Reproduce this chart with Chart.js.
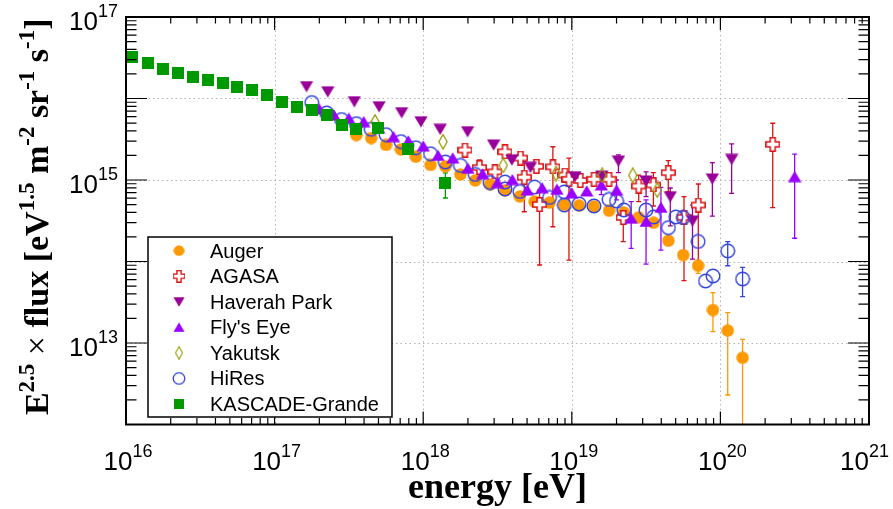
<!DOCTYPE html>
<html><head><meta charset="utf-8">
<script src="https://cdn.jsdelivr.net/npm/chart.js@4.4.1/dist/chart.umd.min.js"></script>
<style>html,body{margin:0;padding:0;background:#fff}canvas{display:block}</style>
</head><body>
<canvas id="c" width="893" height="509"></canvas>
<script>
// ---------------- data (energy in eV, E^2.5 x flux) ----------------
const augerE = [3.55e17,4.47e17,5.62e17,7.08e17,8.91e17,1.12e18,1.41e18,1.78e18,2.24e18,2.82e18,3.55e18,4.47e18,5.62e18,7.08e18,8.91e18,1.12e19,1.41e19,1.78e19,2.24e19,2.82e19,3.55e19,4.47e19,5.62e19,7.08e19,8.91e19,1.12e20,1.41e20];
const augerF = [3.56e15,3.27e15,2.69e15,2.37e15,1.93e15,1.53e15,1.47e15,1.17e15,9.86e14,8.81e14,7.43e14,6.28e14,5.42e14,5.27e14,4.93e14,4.86e14,4.73e14,4.20e14,3.99e14,3.48e14,2.99e14,1.80e14,1.20e14,8.87e13,2.54e13,1.42e13,6.59e12];
const augerHi = [null,null,null,null,null,null,null,null,null,null,null,null,null,null,null,null,null,null,null,null,null,null,null,1.04e14,4.14e13,2.36e13,1.11e13];
const augerLo = [null,null,null,null,null,null,null,null,null,null,null,null,null,null,null,null,null,null,null,null,null,null,null,7.16e13,1.38e13,2.30e12,1e11];

const agasaE = [1.91e18,2.39e18,3.04e18,3.55e18,4.52e18,4.79e18,5.78e18,6.07e18,7.46e18,8.99e18,9.57e18,1.14e19,1.41e19,1.78e19,2.22e19,2.82e19,3.54e19,4.46e19,5.69e19,7.10e19,2.25e20];
const agasaF = [2.33e15,1.42e15,1.26e15,2.22e15,1.86e15,1.08e15,1.47e15,5.00e14,1.45e15,1.15e15,1.02e15,9.86e14,1.02e15,1.02e15,3.47e14,8.43e14,8.69e14,1.23e15,3.48e14,4.93e14,2.74e15];
const agasaHi = [null,1.76e15,null,null,null,1.68e15,null,7.53e14,2.56e15,null,1.86e15,null,null,null,4.50e14,1.15e15,1.23e15,1.73e15,6.24e14,8.93e14,4.97e15];
const agasaLo = [null,1.15e15,null,null,null,4.08e14,null,9.06e13,2.67e14,null,1.04e14,null,null,null,1.75e14,5.42e14,4.80e14,7.18e14,5.81e13,8.63e13,4.57e14];

const haverahE = [1.64e17,2.28e17,3.44e17,5.05e17,7.16e17,9.66e17,1.30e18,1.99e18,2.98e18,3.95e18,5.27e18,1.05e19,1.59e19,2.06e19,3.16e19,4.60e19,6.49e19,8.83e19,1.19e20];
const haverahF = [1.40e16,1.21e16,9.14e15,7.93e15,6.70e15,5.19e15,4.19e15,3.92e15,2.69e15,1.76e15,1.43e15,1.10e15,1.12e15,1.71e15,9.73e14,6.24e14,3.14e14,1.03e15,1.79e15];
const haverahHi = [null,null,null,null,null,null,null,null,null,null,null,null,null,2.03e15,1.26e15,7.98e14,4.93e14,1.63e15,2.77e15];
const haverahLo = [null,null,null,null,null,null,null,null,null,null,null,null,null,1.23e15,6.24e14,2.73e14,1.07e14,3.61e14,6.87e14];

const flysEyeE = [2.00e17,2.51e17,3.16e17,3.98e17,5.01e17,6.31e17,7.94e17,1.00e18,1.26e18,1.58e18,2.00e18,2.51e18,3.16e18,3.98e18,5.01e18,6.31e18,7.94e18,1.00e19,1.26e19,1.58e19,2.00e19,2.51e19,3.16e19,3.98e19,3.16e20];
const flysEyeF = [7.43e15,6.28e15,5.71e15,5.19e15,4.35e15,3.40e15,3.01e15,2.61e15,2.00e15,1.86e15,1.39e15,1.19e15,9.31e14,1.01e15,7.53e14,8.02e14,7.69e14,6.92e14,7.33e14,8.69e14,7.53e14,3.39e14,3.10e14,4.62e14,1.10e15];
const flysEyeHi = [null,null,null,null,null,null,null,null,null,null,null,null,null,null,null,null,null,null,null,1.10e15,1.00e15,5.42e14,5.69e14,8.13e14,2.08e15];
const flysEyeLo = [null,null,null,null,null,null,null,null,null,null,null,null,null,null,null,null,null,null,null,6.60e14,5.69e14,1.45e14,9.31e13,1.38e14,1.93e14];

const yakutskE = [4.74e17,1.36e18,3.46e18,7.83e18,1.60e19,2.57e19,3.76e19];
const yakutskF = [5.15e15,2.95e15,1.51e15,1.20e15,1.14e15,1.14e15,7.53e14];

const hiresE = [1.78e17,2.24e17,2.82e17,3.55e17,4.47e17,5.62e17,7.08e17,8.91e17,1.12e18,1.41e18,1.78e18,2.24e18,2.82e18,3.55e18,3.55e18,4.47e18,5.62e18,7.08e18,8.91e18,8.91e18,1.12e19,1.41e19,1.78e19,2.00e19,2.24e19,3.16e19,3.55e19,4.47e19,5.01e19,5.62e19,7.08e19,7.94e19,8.91e19,1.12e20,1.41e20];
const hiresF = [8.93e15,6.64e15,5.52e15,4.91e15,4.19e15,3.60e15,2.96e15,2.49e15,2.10e15,1.66e15,1.51e15,1.17e15,9.31e14,9.44e14,7.76e14,7.23e14,8.20e14,6.10e14,7.13e14,4.93e14,5.08e14,4.80e14,5.77e14,5.52e14,4.29e14,4.29e14,3.52e14,2.60e14,3.52e14,3.47e14,1.76e14,5.77e13,6.64e13,1.35e14,6.10e13];
const hiresHi = [null,null,null,null,null,null,null,null,null,null,null,null,null,null,null,null,null,null,null,null,null,null,null,null,null,null,null,null,null,null,null,null,null,1.75e14,8.49e13];
const hiresLo = [null,null,null,null,null,null,null,null,null,null,null,null,null,null,null,null,null,null,null,null,null,null,null,null,null,null,null,null,null,null,null,null,null,8.87e13,3.70e13];

const kascadeE = [1.10e16,1.41e16,1.78e16,2.24e16,2.82e16,3.55e16,4.47e16,5.62e16,7.08e16,8.91e16,1.12e17,1.41e17,1.78e17,2.24e17,2.82e17,3.55e17,5.00e17,7.94e17,1.41e18];
const kascadeF = [3.21e16,2.75e16,2.32e16,2.07e16,1.85e16,1.69e16,1.55e16,1.40e16,1.27e16,1.10e16,9.14e15,7.80e15,7.23e15,6.22e15,4.69e15,4.23e15,4.31e15,2.40e15,9.12e14];
const kascadeHi = [null,null,null,null,null,null,null,null,null,null,null,null,null,null,null,null,null,2.60e15,1.22e15];
const kascadeLo = [null,null,null,null,null,null,null,null,null,null,null,null,null,null,null,null,null,2.10e15,6.01e14];

const seriesNames = ["Auger","AGASA","Haverah Park","Fly's Eye","Yakutsk","HiRes","KASCADE-Grande"];
const xTickExponents = [16,17,18,19,20,21];
const yTickExponents = [12,13,14,15,16,17];
const yLabelExponents = [13,15,17];
const xTitle = "energy [eV]";

// ---------------- markers ----------------
function mk(w,h,fn){const c=document.createElement('canvas');c.width=w;c.height=h;fn(c.getContext('2d'),w,h);return c;}
const COL = {auger:'#ff9900',agasa:'#dd1111',haverah:'#990099',fly:'#9a00ff',yak:'#999900',hires:'#3344dd',kg:'#009900'};
const mAuger = mk(13,13,(g)=>{g.fillStyle=COL.auger;g.beginPath();g.arc(6.5,6.5,6.2,0,Math.PI*2);g.fill();});
const mHires = mk(16,16,(g)=>{g.strokeStyle=COL.hires;g.lineWidth=1.4;g.beginPath();g.arc(8,8,6.8,0,Math.PI*2);g.stroke();});
const mKg = mk(12,12,(g)=>{g.fillStyle=COL.kg;g.fillRect(0,0,12,12);});
const mHav = mk(14,12,(g)=>{g.fillStyle=COL.haverah;g.beginPath();g.moveTo(0.3,0.5);g.lineTo(13.7,0.5);g.lineTo(7,11.8);g.closePath();g.fill();});
const mFly = mk(14,12,(g)=>{g.fillStyle=COL.fly;g.beginPath();g.moveTo(7,0.2);g.lineTo(13.7,11.5);g.lineTo(0.3,11.5);g.closePath();g.fill();});
const mYak = mk(10,16,(g)=>{g.strokeStyle=COL.yak;g.lineWidth=1.3;g.beginPath();g.moveTo(5,0.8);g.lineTo(9.1,8);g.lineTo(5,15.2);g.lineTo(0.9,8);g.closePath();g.stroke();});
const mAgasa = mk(15,15,(g)=>{const a=5,b=10,lo=0.8,hi=14.2;g.fillStyle='#fff';g.strokeStyle=COL.agasa;g.lineWidth=1.5;g.beginPath();
  g.moveTo(a,lo);g.lineTo(b,lo);g.lineTo(b,a);g.lineTo(hi,a);g.lineTo(hi,b);g.lineTo(b,b);g.lineTo(b,hi);g.lineTo(a,hi);g.lineTo(a,b);g.lineTo(lo,b);g.lineTo(lo,a);g.lineTo(a,a);g.closePath();g.fill();g.stroke();});

function pts(xs,ys){return xs.map((x,i)=>({x:x,y:ys[i]}));}
function ds(label,xs,ys,hi,lo,marker,color,order){
  return {label:label,data:pts(xs,ys),errHi:hi,errLo:lo,errColor:color,pointStyle:marker,pointRadius:6,pointHoverRadius:6,order:order,showLine:false};
}
const datasets = [
  ds(seriesNames[0],augerE,augerF,augerHi,augerLo,mAuger,COL.auger,7),
  ds(seriesNames[1],agasaE,agasaF,agasaHi,agasaLo,mAgasa,COL.agasa,6),
  ds(seriesNames[2],haverahE,haverahF,haverahHi,haverahLo,mHav,COL.haverah,5),
  ds(seriesNames[3],flysEyeE,flysEyeF,flysEyeHi,flysEyeLo,mFly,COL.fly,3),
  ds(seriesNames[4],yakutskE,yakutskF,null,null,mYak,COL.yak,2),
  ds(seriesNames[5],hiresE,hiresF,hiresHi,hiresLo,mHires,COL.hires,4),
  ds(seriesNames[6],kascadeE,kascadeF,kascadeHi,kascadeLo,mKg,COL.kg,1)
];
const legendMarkers=[mAuger,mAgasa,mHav,mFly,mYak,mHires,mKg];

// ---------------- drawing helpers ----------------
const SANS='"Liberation Sans", Arial, sans-serif';
const SERIF='"Liberation Serif", "Times New Roman", serif';
function drawPow(ctx,x,y,exp,align,maxRight){
  ctx.font='26px '+SANS; const w1=ctx.measureText('10').width;
  ctx.font='18px '+SANS; const w2=ctx.measureText(String(exp)).width;
  const tot=w1+w2; let s = align==='center'? x-tot/2 : x-tot;
  if(maxRight && s+tot>maxRight) s=maxRight-tot;
  ctx.fillStyle='#000'; ctx.textAlign='left'; ctx.textBaseline='alphabetic';
  ctx.font='26px '+SANS; ctx.fillText('10',s,y);
  ctx.font='18px '+SANS; ctx.fillText(String(exp),s+w1,y-13);
}

const axesPlugin = {
  id:'axesPlugin',
  beforeDatasetsDraw(chart){
    const ctx=chart.ctx, a=chart.chartArea, xs=chart.scales.x, ys=chart.scales.y;
    ctx.save();
    // dotted grid
    ctx.strokeStyle='#b4b4b4'; ctx.lineWidth=1; ctx.setLineDash([1.5,3]);
    xTickExponents.forEach(e=>{ if(e===xTickExponents[0]||e===xTickExponents[xTickExponents.length-1])return;
      const px=Math.round(xs.getPixelForValue(Math.pow(10,e)))+0.5; ctx.beginPath(); ctx.moveTo(px,a.top); ctx.lineTo(px,a.bottom); ctx.stroke();});
    yTickExponents.forEach(e=>{ if(e===yTickExponents[0]||e===yTickExponents[yTickExponents.length-1])return;
      const py=Math.round(ys.getPixelForValue(Math.pow(10,e)))+0.5; ctx.beginPath(); ctx.moveTo(a.left,py); ctx.lineTo(a.right,py); ctx.stroke();});
    ctx.setLineDash([]);
    // error bars
    ctx.beginPath(); ctx.rect(a.left,a.top,a.right-a.left,a.bottom-a.top); ctx.clip();
    chart.data.datasets.forEach((d,di)=>{
      if(!d.errHi) return;
      const meta=chart.getDatasetMeta(di);
      ctx.strokeStyle=d.errColor; ctx.lineWidth=1.3;
      d.errHi.forEach((h,i)=>{
        if(h==null) return;
        const p=meta.data[i]; const x=p.x;
        const yh=ys.getPixelForValue(h), yl=ys.getPixelForValue(d.errLo[i]);
        ctx.beginPath(); ctx.moveTo(x,yh); ctx.lineTo(x,yl);
        ctx.moveTo(x-2.5,yh); ctx.lineTo(x+2.5,yh);
        ctx.moveTo(x-2.5,yl); ctx.lineTo(x+2.5,yl); ctx.stroke();
      });
    });
    ctx.restore();
  },
  afterDatasetsDraw(chart){
    const ctx=chart.ctx, a=chart.chartArea, xs=chart.scales.x, ys=chart.scales.y;
    ctx.save();
    // ticks
    ctx.strokeStyle='#000'; ctx.lineWidth=1.2;
    const xMaxV=Math.pow(10,xTickExponents[xTickExponents.length-1]);
    for(let e=xTickExponents[0]; e<=xTickExponents[xTickExponents.length-1]; e++){
      for(let m=1;m<=9;m++){
        const v=m*Math.pow(10,e); if(v>xMaxV)break;
        const px=xs.getPixelForValue(v); const len=(m===1)?13:6.5;
        ctx.beginPath(); ctx.moveTo(px,a.bottom); ctx.lineTo(px,a.bottom-len); ctx.moveTo(px,a.top); ctx.lineTo(px,a.top+len); ctx.stroke();
      }
    }
    const yMaxV=Math.pow(10,yTickExponents[yTickExponents.length-1]);
    for(let e=yTickExponents[0]; e<=yTickExponents[yTickExponents.length-1]; e++){
      for(let m=1;m<=9;m++){
        const v=m*Math.pow(10,e); if(v>yMaxV)break;
        const py=ys.getPixelForValue(v); const len=(m===1)?21:10.5;
        ctx.beginPath(); ctx.moveTo(a.left,py); ctx.lineTo(a.left+len,py); ctx.moveTo(a.right,py); ctx.lineTo(a.right-len,py); ctx.stroke();
      }
    }
    // frame
    ctx.lineWidth=2; ctx.strokeRect(a.left,a.top,a.right-a.left,a.bottom-a.top);
    // tick labels
    xTickExponents.forEach(e=>drawPow(ctx,xs.getPixelForValue(Math.pow(10,e))+2,470,e,'center',889));
    yLabelExponents.forEach(e=>drawPow(ctx,a.left-8,ys.getPixelForValue(Math.pow(10,e))+13,e,'right'));
    // x title
    ctx.fillStyle='#000'; ctx.font='bold 36px '+SERIF; ctx.textAlign='center'; ctx.textBaseline='alphabetic';
    ctx.fillText(xTitle,(a.left+a.right)/2,498);
    // y title
    const parts=[['E','m'],['2.5','s'],[' ','m'],['\u00d7','x'],[' flux [eV','m'],['1.5','s'],[' m','m'],['-2','s'],[' sr','m'],['-1','s'],[' s','m'],['-1','s'],[']','m']];
    const fnt={m:'bold 34px '+SERIF,s:'bold 23px '+SERIF,x:'34px '+SERIF};
    let tot=0; parts.forEach(p=>{ctx.font=fnt[p[1]]; tot+=ctx.measureText(p[0]).width;});
    ctx.translate(48,(a.top+a.bottom)/2-4); ctx.rotate(-Math.PI/2); ctx.textAlign='left';
    let cx=-tot/2;
    parts.forEach(p=>{ctx.font=fnt[p[1]]; ctx.fillText(p[0],cx,p[1]==='s'?-14:0); cx+=ctx.measureText(p[0]).width;});
    ctx.setTransform(1,0,0,1,0,0);
    // legend
    ctx.fillStyle='#fff'; ctx.fillRect(148,237,244,180);
    ctx.strokeStyle='#000'; ctx.lineWidth=1.5; ctx.strokeRect(148,237,244,180);
    ctx.font='20px '+SANS; ctx.fillStyle='#000'; ctx.textAlign='left';
    seriesNames.forEach((n,i)=>{
      const cy=250.7+i*25.55; const mkr=legendMarkers[i];
      const sc=0.85; const w=mkr.width*sc, h=mkr.height*sc;
      ctx.drawImage(mkr,179-w/2,cy-h/2,w,h);
      ctx.fillText(n,210,cy+7);
    });
    ctx.restore();
  }
};

new Chart(document.getElementById('c'),{
  type:'scatter',
  data:{datasets:datasets},
  options:{
    responsive:false, animation:false, devicePixelRatio:1,
    layout:{padding:{left:126,right:24,top:17,bottom:84.5}},
    scales:{
      x:{type:'logarithmic',min:1e16,max:1e21,display:false},
      y:{type:'logarithmic',min:1e12,max:1e17,display:false}
    },
    plugins:{legend:{display:false},tooltip:{enabled:false}}
  },
  plugins:[axesPlugin]
});
</script></body></html>
